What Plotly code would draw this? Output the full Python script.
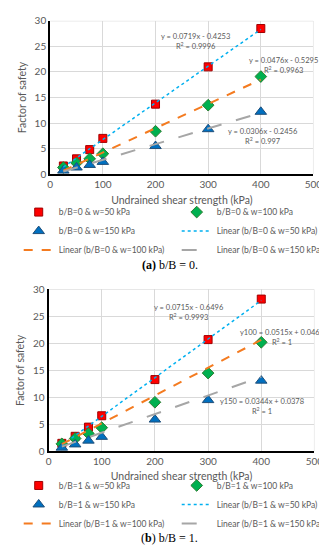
import plotly.graph_objects as go

# ---------------- data ----------------
su = [25, 50, 75, 100, 200, 300, 400]

# (a) b/B = 0
a_w50 = [1.6, 3.0, 4.8, 7.0, 13.7, 21.0, 28.5]
a_w100 = [1.3, 2.2, 3.0, 4.0, 8.4, 13.5, 19.1]
a_w150 = [0.7, 1.3, 1.8, 2.4, 5.5, 8.8, 12.2]
a_fit = [(0.0719, -0.4253), (0.0476, -0.5295), (0.0306, -0.2456)]
a_eq = ["y = 0.0719x - 0.4253<br>R<sup>2</sup> = 0.9996",
        "y = 0.0476x - 0.5295<br>R<sup>2</sup> = 0.9963",
        "y = 0.0306x - 0.2456<br>R<sup>2</sup> = 0.997"]
a_eq_pos = [(275, 25.9), (444, 21.3), (404, 7.4)]

# (b) b/B = 1
b_w50 = [1.5, 2.8, 4.5, 6.6, 13.3, 20.7, 28.2]
b_w100 = [1.4, 2.4, 3.3, 4.4, 9.1, 14.5, 20.2]
b_w150 = [0.7, 1.3, 2.0, 2.7, 5.9, 9.5, 13.1]
b_fit = [(0.0715, -0.6496), (0.0515, 0.0467), (0.0344, 0.0378)]
b_eq = ["y = 0.0715x - 0.6496<br>R<sup>2</sup> = 0.9993",
        "y100 = 0.0515x + 0.0467<br>R<sup>2</sup> = 1",
        "y150 = 0.0344x + 0.0378<br>R<sup>2</sup> = 1"]
b_eq_pos = [(264, 25.8), (440, 21.0), (402, 8.25)]

x_ticks = [0, 100, 200, 300, 400, 500]
y_ticks = [0, 5, 10, 15, 20, 25, 30]

FONT = "Lato"
GRAY = "#595959"

markers = [
    dict(symbol="square", size=8, color="#ff0000", line=dict(color="#a00000", width=1)),
    dict(symbol="diamond", size=9, color="#00b050", line=dict(color="#2e7d32", width=1)),
    dict(symbol="triangle-up", size=10, color="#0070c0", line=dict(color="#1f4e79", width=1)),
]
lines = [
    dict(color="#00b0f0", width=1.5, dash="dot"),
    dict(color="#f47b20", width=2, dash="dash"),
    dict(color="#a6a6a6", width=2, dash="longdash"),
]

fig = go.Figure()


def add_panel(bb, series, fits, xa, ya, legend):
    names = ["w=50 kPa", "w=100 kPa", "w=150 kPa"]
    for s, nm, mk in zip(series, names, markers):
        fig.add_trace(go.Scatter(x=su, y=s, mode="markers", marker=mk,
                                 name=f"b/B={bb} &amp; {nm}",
                                 xaxis=xa, yaxis=ya, legend=legend))
    for (m, c), nm, ln in zip(fits, names, lines):
        xs = [min(su), max(su)]
        fig.add_trace(go.Scatter(x=xs, y=[m * v + c for v in xs], mode="lines", line=ln,
                                 name=f"Linear (b/B={bb} &amp; {nm})",
                                 xaxis=xa, yaxis=ya, legend=legend))


add_panel(0, [a_w50, a_w100, a_w150], a_fit, "x", "y", "legend")
add_panel(1, [b_w50, b_w100, b_w150], b_fit, "x2", "y2", "legend2")

W, H = 327, 550


def px_x(p):
    return p / W


def px_y(p):
    return 1 - p / H


axis_common = dict(showgrid=True, gridcolor="#d9d9d9", gridwidth=1, zeroline=False,
                   tickfont=dict(family=FONT, size=10, color=GRAY), ticks="",
                   showline=True, linecolor="black", linewidth=2)

title_font = dict(family=FONT, size=10.5, color=GRAY)
leg_common = dict(orientation="h", xanchor="left", yanchor="top", entrywidth=113,
                  font=dict(family=FONT, size=8.5, color=GRAY),
                  bgcolor="rgba(0,0,0,0)", itemwidth=30)

fig.update_layout(
    width=W, height=H, margin=dict(l=0, r=0, t=0, b=0),
    paper_bgcolor="white", plot_bgcolor="white",
    font=dict(family=FONT, color=GRAY),
    xaxis=dict(axis_common, domain=[px_x(40.7), px_x(314)], range=[0, 500], tickvals=x_ticks,
               anchor="y", title=dict(text="Undrained shear strength (kPa)", font=title_font, standoff=8)),
    yaxis=dict(axis_common, domain=[px_y(163), px_y(6)], range=[0, 30], tickvals=y_ticks,
               anchor="x", title=dict(text="Factor of safety", font=title_font, standoff=6)),
    xaxis2=dict(axis_common, domain=[px_x(39), px_x(315)], range=[0, 500], tickvals=x_ticks,
                anchor="y2", title=dict(text="Undrained shear strength (kPa)", font=title_font, standoff=6)),
    yaxis2=dict(axis_common, domain=[px_y(447), px_y(281)], range=[0, 30], tickvals=y_ticks,
                anchor="x2", title=dict(text="Factor of safety", font=title_font, standoff=6)),
    legend=dict(leg_common, x=px_x(8), y=px_y(187)),
    legend2=dict(leg_common, x=px_x(8), y=px_y(467)),
    showlegend=True,
)

# light border lines at the top / right grid edges
for xr, yr in (("x", "y"), ("x2", "y2")):
    fig.add_shape(type="line", xref=xr, yref=yr, x0=0, x1=500, y0=30, y1=30,
                  line=dict(color="#d9d9d9", width=1), layer="below")
    fig.add_shape(type="line", xref=xr, yref=yr, x0=500, x1=500, y0=0, y1=30,
                  line=dict(color="#d9d9d9", width=1), layer="below")

for txt, (x, y) in zip(a_eq, a_eq_pos):
    fig.add_annotation(x=x, y=y, xref="x", yref="y", text=txt, showarrow=False,
                       font=dict(family=FONT, size=7.5, color=GRAY), align="center")
for txt, (x, y) in zip(b_eq, b_eq_pos):
    fig.add_annotation(x=x, y=y, xref="x2", yref="y2", text=txt, showarrow=False,
                       font=dict(family=FONT, size=7.5, color=GRAY), align="center")

fig.add_annotation(x=px_x(165), y=px_y(256), xref="paper", yref="paper",
                   text="<b>(a)</b> b/B = 0.", showarrow=False,
                   font=dict(family="Liberation Serif", size=12, color="black"))
fig.add_annotation(x=px_x(165), y=px_y(544), xref="paper", yref="paper",
                   text="(<b>b</b>) b/B = 1.", showarrow=False, borderpad=0,
                   font=dict(family="Liberation Serif", size=12, color="black"))

fig.write_html("out.html")
